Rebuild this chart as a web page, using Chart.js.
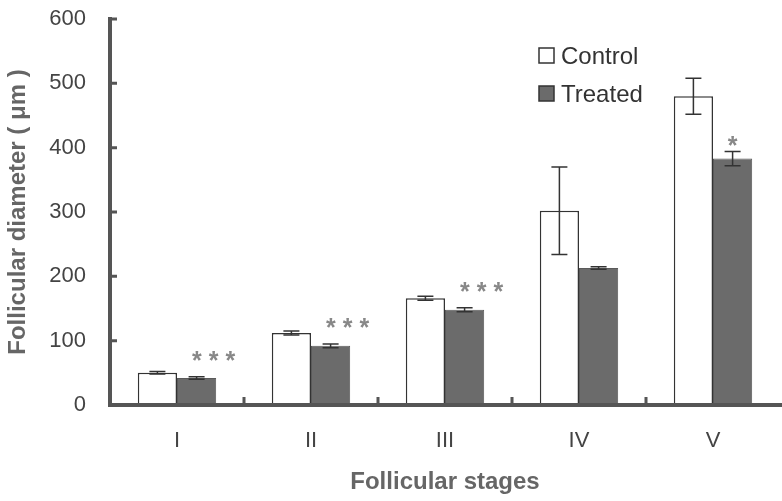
<!DOCTYPE html>
<html>
<head>
<meta charset="utf-8">
<script src="https://cdn.jsdelivr.net/npm/chart.js@4"></script>
<style>
  html, body { margin: 0; padding: 0; background: #fff; }
  #wrap { width: 782px; height: 501px; position: relative; }
</style>
</head>
<body>
<div id="wrap"><canvas id="chart"></canvas></div>
<script>
const stages = ["I", "II", "III", "IV", "V"];
const controlMean = [50, 112, 166, 302, 480];
const controlErr = [2, 3, 3, 68, 28];
const treatedMean = [42, 92, 148, 213, 383];
const treatedErr = [2, 3, 3, 2, 11];
const signif = ["***", "***", "***", "", "*"];
const yTicks = [0, 100, 200, 300, 400, 500, 600];

const axisGray = "#555";
const font = "'Liberation Sans', Arial, sans-serif";

// error bars, asterisks, inner ticks and legend
const extras = {
    id: "extras",
    afterDatasetsDraw(chart) {
        const ctx = chart.ctx;
        const y = chart.scales.y;
        const x = chart.scales.x;
        const area = chart.chartArea;
        const errs = [controlErr, treatedErr];
        const means = [controlMean, treatedMean];
        ctx.save();
        ctx.strokeStyle = "#333";
        ctx.lineWidth = 1.5;
        [0, 1].forEach(d => {
            chart.getDatasetMeta(d).data.forEach((bar, i) => {
                const top = y.getPixelForValue(means[d][i] + errs[d][i]);
                const bot = y.getPixelForValue(means[d][i] - errs[d][i]);
                ctx.beginPath();
                ctx.moveTo(bar.x, top); ctx.lineTo(bar.x, bot);
                ctx.moveTo(bar.x - 8, top); ctx.lineTo(bar.x + 8, top);
                ctx.moveTo(bar.x - 8, bot); ctx.lineTo(bar.x + 8, bot);
                ctx.stroke();
            });
        });
        // significance marks
        ctx.fillStyle = "#888";
        ctx.font = "bold 25px " + font;
        ctx.textAlign = "center";
        ctx.textBaseline = "alphabetic";
        chart.getDatasetMeta(1).data.forEach((bar, i) => {
            if (!signif[i]) return;
            const top = y.getPixelForValue(treatedMean[i] + treatedErr[i]);
            const multi = signif[i].length > 1;
            const txt = signif[i].split("").join(" ");
            ctx.fillText(txt, bar.x + (multi ? 17 : 0), top - (multi ? 22 : 12) + 14);
        });
        // axes
        ctx.strokeStyle = axisGray;
        ctx.lineWidth = 4;
        ctx.beginPath();
        ctx.moveTo(area.left, area.top - 2);
        ctx.lineTo(area.left, area.bottom);
        ctx.lineTo(area.right + 4, area.bottom);
        ctx.stroke();
        ctx.lineWidth = 3;
        ctx.beginPath();
        yTicks.forEach(v => {
            const py = y.getPixelForValue(v);
            ctx.moveTo(area.left, py); ctx.lineTo(area.left + 7, py);
        });
        for (let i = 1; i < stages.length; i++) {
            const px = (x.getPixelForValue(i - 1) + x.getPixelForValue(i)) / 2;
            ctx.moveTo(px, area.bottom); ctx.lineTo(px, area.bottom - 8);
        }
        ctx.stroke();
        // legend
        const lx = 539, ly = [56, 94];
        ctx.font = "24px " + font;
        ctx.textAlign = "left";
        ctx.textBaseline = "middle";
        chart.data.datasets.forEach((ds, k) => {
            ctx.fillStyle = ds.backgroundColor;
            ctx.fillRect(lx, ly[k] - 8, 15, 15);
            ctx.strokeStyle = "#333";
            ctx.lineWidth = 1.5;
            ctx.strokeRect(lx, ly[k] - 8, 15, 15);
            ctx.fillStyle = "#333";
            ctx.fillText(ds.label, lx + 22, ly[k] + 1);
        });
        ctx.restore();
    }
};

new Chart(document.getElementById("chart"), {
    type: "bar",
    data: {
        labels: stages,
        datasets: [
            {
                label: "Control",
                data: controlMean,
                backgroundColor: "#ffffff",
                borderColor: "#333",
                borderWidth: 1.5,
                borderSkipped: "bottom",
            },
            {
                label: "Treated",
                data: treatedMean,
                backgroundColor: "#6b6b6b",
                borderColor: "#5a5a5a",
                borderWidth: 1,
                borderSkipped: "bottom",
            },
        ],
    },
    options: {
        responsive: true,
        maintainAspectRatio: false,
        animation: false,
        layout: { padding: { top: 19, right: 2, left: 0, bottom: 0 } },
        datasets: { bar: { categoryPercentage: 0.585, barPercentage: 1.0 } },
        plugins: {
            legend: { display: false },
            tooltip: { enabled: false },
        },
        scales: {
            y: {
                min: 0,
                max: 600,
                afterFit: s => { s.width = 110; s.paddingTop = 0; s.paddingBottom = 0; },
                afterBuildTicks: s => { s.ticks = yTicks.map(v => ({ value: v })); },
                border: { display: false },
                grid: { display: false },
                ticks: { color: "#444", font: { family: font, size: 22 }, padding: 16 },
                title: {
                    display: true,
                    text: "Follicular diameter ( μm )",
                    color: "#666",
                    font: { family: font, size: 24, weight: "bold" },
                    padding: { top: 4, bottom: 0 },
                },
            },
            x: {
                afterFit: s => { s.height = 96; s.paddingLeft = 0; s.paddingRight = 0; },
                border: { display: false },
                grid: { display: false },
                ticks: { color: "#444", font: { family: font, size: 22 }, padding: 15 },
                title: {
                    display: true,
                    text: "Follicular stages",
                    color: "#666",
                    font: { family: font, size: 24, weight: "bold" },
                    padding: { top: 12 },
                },
            },
        },
    },
    plugins: [extras],
});
</script>
</body>
</html>
